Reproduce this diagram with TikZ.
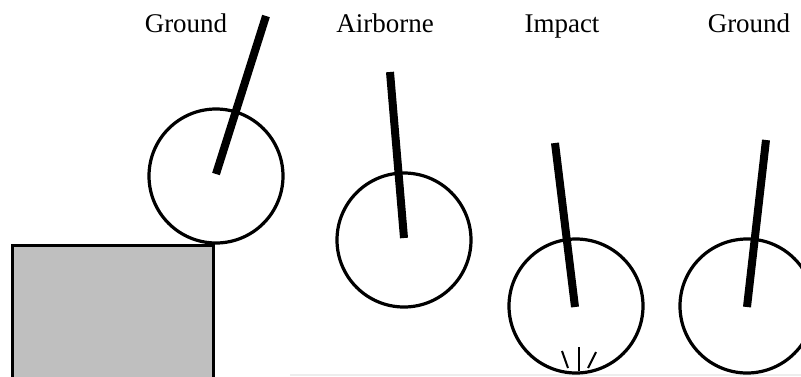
\documentclass[tikz,border=0pt]{standalone}
\usepackage{fontspec}
\setmainfont{Liberation Serif}
\begin{document}
\begin{tikzpicture}[x=1pt,y=-1pt,
  wheel/.style={draw=black,line width=3.2pt,circle},
  stick/.style={draw=black,line width=8pt},
  spark/.style={draw=black,line width=2pt},
  lbl/.style={font=\fontsize{27}{31}\selectfont,anchor=base,inner sep=0pt}]
\useasboundingbox (0,0) rectangle (801,376);
\clip (0,0) rectangle (801,376);
% ground line
\draw[line width=2pt,draw=black!7] (290,375) -- (801,375);
% block
\filldraw[fill=black!25,draw=black,line width=3pt] (12,378) -- (12,245) -- (213,245) -- (213,378);
% labels
\node[lbl] (l1) at (186,32) {Ground};
\node[lbl] (l2) at (385,32) {Airborne};
\node[lbl] (l3) at (562,32) {Impact};
\node[lbl] (l4) at (749,32) {Ground};
% wheels
\draw[wheel] (216,176) circle (67);
\draw[stick] (216,174) -- (266,16);
\draw[wheel] (404,240) circle (67);
\draw[stick] (404,238) -- (390,72);
\draw[wheel] (576,306) circle (67);
\draw[stick] (575,307) -- (555,143);
\draw[wheel] (747,306) circle (67);
\draw[stick] (747,307) -- (766,140);
% impact sparks
\coordinate (s1a) at (562,351); \coordinate (s1b) at (568,368);
\coordinate (s2a) at (579,347); \coordinate (s2b) at (579,371);
\coordinate (s3a) at (596,352); \coordinate (s3b) at (588,368);
\draw[spark] (s1a) -- (s1b);
\draw[spark] (s2a) -- (s2b);
\draw[spark] (s3a) -- (s3b);
\end{tikzpicture}
\end{document}
